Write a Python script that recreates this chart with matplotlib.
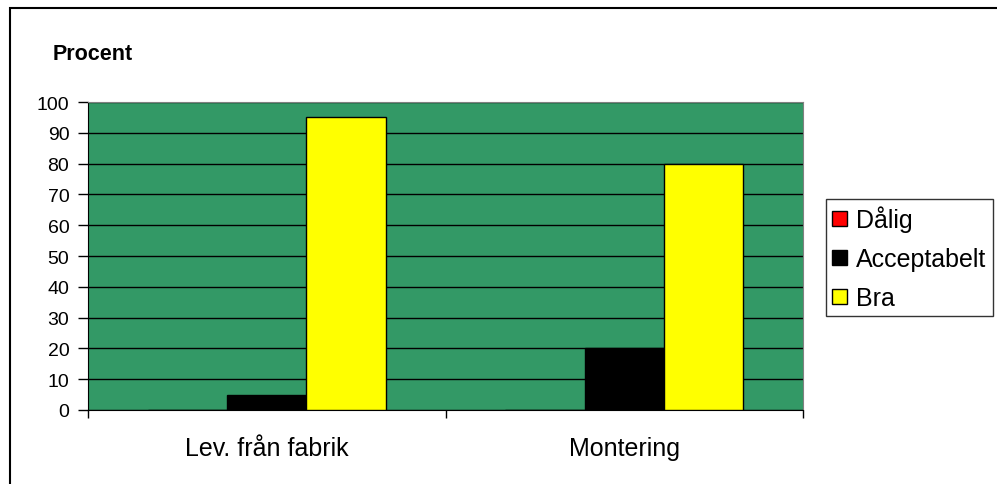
import matplotlib
matplotlib.use("Agg")
import matplotlib.pyplot as plt
import numpy as np
from matplotlib.patches import Rectangle

plt.rcParams['font.family'] = ['Liberation Sans', 'DejaVu Sans']

categories = ["Lev. från fabrik", "Montering"]
series_names = ["Dålig", "Acceptabelt", "Bra"]
dalig = [0, 0]
acceptabelt = [5, 20]
bra = [95, 80]
yticks = list(range(0, 101, 10))

colors = ["#FF0000", "#000000", "#FFFF00"]
values = [dalig, acceptabelt, bra]

W, H = 997, 485
fig = plt.figure(figsize=(W / 100, H / 100), dpi=100)

# outer chart frame
fig.patches.append(Rectangle((10 / W, -0.05), (W + 20) / W, (H - 9) / H + 0.05,
                             transform=fig.transFigure, fill=False,
                             edgecolor="black", linewidth=1.5))

ax = fig.add_axes([88 / W, (H - 411) / H, (803 - 88) / W, (411 - 103) / H])
ax.set_facecolor("#339966")

bw = 1 / 4.5
x = np.arange(len(categories))
for i, (name, vals, c) in enumerate(zip(series_names, values, colors)):
    ax.bar(x + (i - 1) * bw, vals, width=bw, color=c, edgecolor="black",
           linewidth=1, label=name, zorder=3)

ax.set_xlim(-0.5, len(categories) - 0.5)
ax.set_ylim(0, 100)
ax.set_yticks(yticks)
ax.yaxis.grid(True, color="black", linewidth=1, zorder=1)
ax.set_axisbelow(True)

ax.set_xticks(x)
ax.set_xticklabels(categories, fontsize=18)
ax.tick_params(axis="x", length=0, pad=19)
ax.set_xticks([-0.5, 0.5, 1.5], minor=True)
ax.tick_params(axis="x", which="minor", length=6, direction="out", width=1)
ax.tick_params(axis="y", length=7, direction="out", width=1, labelsize=14, pad=6.5)

for s in ["top", "right"]:
    ax.spines[s].set_color("#808080")
for s in ["left", "bottom"]:
    ax.spines[s].set_color("black")

fig.text(53 / W, 1 - 55 / H, "Procent", fontsize=15.5, fontweight="bold",
         va="center", ha="left")

leg = fig.legend(loc="upper left", bbox_to_anchor=(826 / W, 1 - 200 / H),
                 bbox_transform=fig.transFigure, fontsize=18, frameon=True,
                 fancybox=False, handlelength=0.6, handleheight=0.55,
                 handletextpad=0.35, borderpad=0.25, labelspacing=0.6,
                 borderaxespad=0)
leg.get_frame().set_edgecolor("black")
leg.get_frame().set_linewidth(1)

fig.savefig("out.png", dpi=100)
